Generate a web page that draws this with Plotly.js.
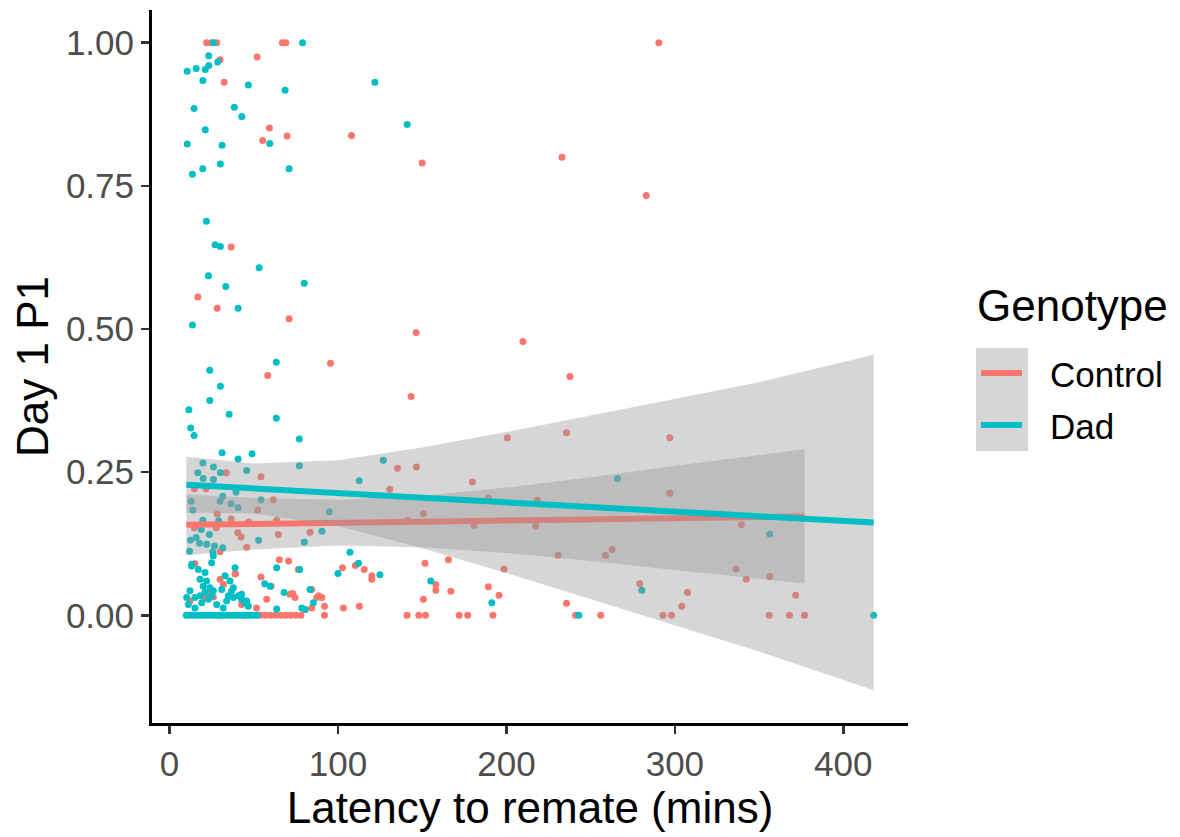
<!DOCTYPE html>
<html>
<head>
<meta charset="utf-8">
<script src="https://cdn.plot.ly/plotly-3.0.1.min.js"></script>
<style>html,body{margin:0;padding:0;background:#fff;}#chart{width:1180px;height:837px;}</style>
</head>
<body>
<div id="chart"></div>
<script>
// ---- Data ----
const groups = ["Control", "Dad"];
const colors = ["#F8766D", "#00BFC4"];

const ctrlX = [22,25,28,67,69,290.5, 52,30,32.4, 59.3,55.3,69.8,108, 150,233,283, 36.6, 16.8,28.3,71,
  146.4,209.8,237.7,143.4, 58.3,95.6,
  33.6,54.3,14.8,21.7,61.6,52.3,28.3,36.6,47,63.6,14.8,27.7,40.5,42.5,64.6,83.4,45.8,30,
  135.3,146.6,130.8,179.8,200.5,235.7,189.3,218.3,150.7,141.3,180.8,217.4,230.6,198.6,151.7,165.6,
  258.8,262.8, 297,297,339.5,336.3,342.4,356.3,
  65.2,70.7,102.7,110.3,115.6,120.1,120.1,54.3,60.3,84.4,158.1,158.1,167,189.3,195.6,73.1,88.5,39.1,30,
  150.7,235.7,279.2,307.5,304.1,371.7,
  15.1,38.9,76.5,57.7,71.5,74.5,84.4,87.4,80.5,23,26,21,42.8,51.7,12.1,32,
  90.4,92,103.2,112.7,
  30,44,54,57,60,63,66,69,72,75,78,92,141,148,152,172,177,192,241,256,293,298,356,368,377];
const ctrlY = [1,1,1,1,1,1, 0.975,0.970,0.931, 0.851,0.829,0.837,0.838, 0.79,0.80,0.733, 0.643, 0.556,0.536,0.518,
  0.494,0.478,0.417,0.382, 0.419,0.440,
  0.249,0.242,0.221,0.221,0.202,0.184,0.177,0.168,0.163,0.166,0.153,0.153,0.144,0.137,0.141,0.145,0.119,0.111,
  0.257,0.259,0.220,0.233,0.310,0.319,0.205,0.201,0.178,0.166,0.157,0.156,0.105,0.081,0.091,0.097,
  0.105,0.115, 0.310,0.213,0.158,0.081,0.063,0.068,
  0.097,0.095,0.083,0.087,0.080,0.069,0.063,0.067,0.051,0.045,0.054,0.044,0.042,0.050,0.035,0.038,0.034,0.073,0.063,
  0.028,0.021,0.055,0.040,0.016,0.035,
  0.090,0.072,0.080,0.028,0.037,0.031,0.013,0.031,0.010,0.040,0.032,0.031,0.019,0.013,0.025,0.054,
  0.031,0.016,0.013,0.016,
  0,0,0,0,0,0,0,0,0,0,0,0,0,0,0,0,0,0,0,0,0,0,0,0,0];

const dadX = [26,79, 23.3,28.6,23.3,21.2,15.8,10.5,19.8,46.8,68.6,121.9, 14.6,38.5,42.9,141.1, 21.2,10.5,31.2,59.5,
  30.2,19.7,13.6,71, 21.9,27.1,30.2, 53.2,23.1,80,33.4,40.7,13.6,
  63.4,23.9,30.2,23.9,11.5,35.4,63.4,12.6,14.6,77.1, 31.2,40.7,49,
  19.8,26.1,16.8,30.2,20,26.1,45.8,77.1,112.6,126.9,39.5,31.6,12.9,13.8,30,36.6,40.7,54.3,94.8,
  19.8,29.2,18.8,23.7,15.8,12.4,17.8,22.1,26.7,31.6,25.7,11.9,52.9,80,90.5,107.1, 265.9,356.3,
  112.2,100,124.9,155.1,77.3,63.6,56.5,68, 191.3,280.4,
  13.1,17.1,21.1,25,26,38.9,18.1,22,20,24,26,21,31,33,35.9,37.9,36.9,12.1,10.2,11.2,15.1,18.1,19.1,23,25,28,
  33.9,34.9,37.9,40.9,42.8,44.8,46.8,45.8,42.8,31.9,15.1,59.7,83.4,63.6,13.2,78.5,80.5,85.4,
  10,12,14,16,18,20,22,24,26,28,30,32,34,36,38,40,42,44,46,48,50,52,243,418];
const dadY = [1,1, 0.977,0.966,0.960,0.953,0.955,0.950,0.934,0.926,0.917,0.931, 0.885,0.887,0.871,0.857, 0.848,0.823,0.821,0.824,
  0.788,0.780,0.770,0.780, 0.688,0.647,0.644, 0.607,0.593,0.580,0.574,0.536,0.507,
  0.442,0.428,0.400,0.375,0.359,0.351,0.344,0.327,0.314,0.308, 0.284,0.273,0.282,
  0.266,0.259,0.249,0.249,0.239,0.237,0.253,0.261,0.235,0.271,0.215,0.208,0.199,0.184,0.199,0.195,0.188,0.202,0.181,
  0.166,0.165,0.150,0.141,0.136,0.131,0.126,0.124,0.121,0.118,0.111,0.112,0.131,0.128,0.147,0.110, 0.239,0.142,
  0.091,0.073,0.071,0.060,0.080,0.083,0.055,0.040, 0.022,0.044,
  0.086,0.080,0.075,0.092,0.104,0.083,0.063,0.060,0.051,0.048,0.043,0.040,0.045,0.069,0.060,0.048,0.043,0.043,0.031,0.019,0.031,0.034,0.022,0.028,0.034,0.019,
  0.025,0.034,0.031,0.034,0.028,0.022,0.016,0.025,0.037,0.013,0.013,0.051,0.045,0.011,0.089,0.013,0.010,0.022,
  0,0,0,0,0,0,0,0,0,0,0,0,0,0,0,0,0,0,0,0,0,0,0,0];

// Linear fits (end points) and confidence ribbons
const ctrlFitX = [10, 377];
const ctrlFitY = [0.158, 0.1725];
const dadFitX = [10, 418];
const dadFitY = [0.228, 0.162];

const ctrlRibX  = [10, 50, 100, 150, 200, 250, 300, 350, 377];
const ctrlRibLo = [0.105, 0.115, 0.122, 0.119, 0.109, 0.095, 0.079, 0.064, 0.055];
const ctrlRibHi = [0.211, 0.205, 0.202, 0.209, 0.223, 0.241, 0.261, 0.280, 0.290];
const dadRibX  = [10, 50, 100, 150, 200, 250, 300, 350, 418];
const dadRibLo = [0.179, 0.178, 0.156, 0.117, 0.074, 0.029, -0.017, -0.063, -0.131];
const dadRibHi = [0.277, 0.265, 0.271, 0.293, 0.320, 0.349, 0.378, 0.407, 0.455];

const xTicks = [0, 100, 200, 300, 400];
const yTicks = [0, 0.25, 0.5, 0.75, 1];
const yTickText = ["0.00", "0.25", "0.50", "0.75", "1.00"];

// ---- Build traces ----
const FONT = '"Liberation Sans", Arial, Helvetica, sans-serif';
const ribbonFill = 'rgba(153,153,153,0.4)';

function ribbon(xs, lo, hi) {
  return {
    x: xs.concat(xs.slice().reverse()),
    y: hi.concat(lo.slice().reverse()),
    type: 'scatter', mode: 'lines', fill: 'toself', fillcolor: ribbonFill,
    line: {width: 0, color: 'rgba(0,0,0,0)'}, hoverinfo: 'skip', showlegend: false
  };
}
function pts(xs, ys, c, name) {
  return {x: xs, y: ys, type: 'scatter', mode: 'markers', name: name,
    marker: {color: c, size: 7, line: {width: 0}}, showlegend: false, hoverinfo: 'skip'};
}
function fit(xs, ys, c, name) {
  return {x: xs, y: ys, type: 'scatter', mode: 'lines', name: name,
    line: {color: c, width: 6}, showlegend: false, hoverinfo: 'skip'};
}

const traces = [
  pts(ctrlX, ctrlY, colors[0], groups[0]),
  pts(dadX, dadY, colors[1], groups[1]),
  ribbon(ctrlRibX, ctrlRibLo, ctrlRibHi),
  fit(ctrlFitX, ctrlFitY, colors[0], groups[0]),
  ribbon(dadRibX, dadRibLo, dadRibHi),
  fit(dadFitX, dadFitY, colors[1], groups[1])
];

// ---- Legend drawn with shapes + annotations (ggplot style with grey key) ----
const L = 152, R = 908, T = 10, B = 723;
const px = v => (v - L) / (R - L);
const py = v => (B - v) / (B - T);

const shapes = [
  {type: 'rect', xref: 'paper', yref: 'paper', x0: px(976), x1: px(1028), y0: py(451), y1: py(348),
   fillcolor: '#d6d6d6', line: {width: 0}},
  {type: 'line', xref: 'paper', yref: 'paper', x0: px(981), x1: px(1022), y0: py(373), y1: py(373),
   line: {color: colors[0], width: 6}},
  {type: 'line', xref: 'paper', yref: 'paper', x0: px(981), x1: px(1022), y0: py(425), y1: py(425),
   line: {color: colors[1], width: 6}}
];
const annotations = [
  {xref: 'paper', yref: 'paper', x: px(975), y: py(305), xanchor: 'left', yanchor: 'middle', showarrow: false,
   text: 'Genotype', font: {family: FONT, size: 44, color: '#000'}},
  {xref: 'paper', yref: 'paper', x: px(1048), y: py(374), xanchor: 'left', yanchor: 'middle', showarrow: false,
   text: groups[0], font: {family: FONT, size: 35, color: '#000'}},
  {xref: 'paper', yref: 'paper', x: px(1048), y: py(426), xanchor: 'left', yanchor: 'middle', showarrow: false,
   text: groups[1], font: {family: FONT, size: 35, color: '#000'}}
];

const layout = {
  width: 1180, height: 837,
  margin: {l: L, r: 1180 - R, t: T, b: 837 - B, pad: 0},
  paper_bgcolor: '#fff', plot_bgcolor: '#fff',
  font: {family: FONT},
  showlegend: false,
  xaxis: {
    range: [-10.4, 438.4], showgrid: false, zeroline: false,
    showline: true, linecolor: '#000', linewidth: 3,
    ticks: 'outside', ticklen: 8, tickwidth: 2.5, tickcolor: '#333',
    tickvals: xTicks, tickfont: {family: FONT, size: 35, color: '#4D4D4D'},
    title: {text: 'Latency to remate (mins)', font: {family: FONT, size: 44, color: '#000'}, standoff: 3}
  },
  yaxis: {
    range: [-0.188, 1.057], showgrid: false, zeroline: false,
    showline: true, linecolor: '#000', linewidth: 3,
    ticks: 'outside', ticklen: 8, tickwidth: 2.5, tickcolor: '#333',
    tickvals: yTicks, ticktext: yTickText, tickfont: {family: FONT, size: 35, color: '#4D4D4D'},
    title: {text: 'Day 1 P1', font: {family: FONT, size: 44, color: '#000'}, standoff: 4}
  },
  shapes: shapes,
  annotations: annotations
};

Plotly.newPlot('chart', traces, layout, {displayModeBar: false, staticPlot: true});
</script>
</body>
</html>
